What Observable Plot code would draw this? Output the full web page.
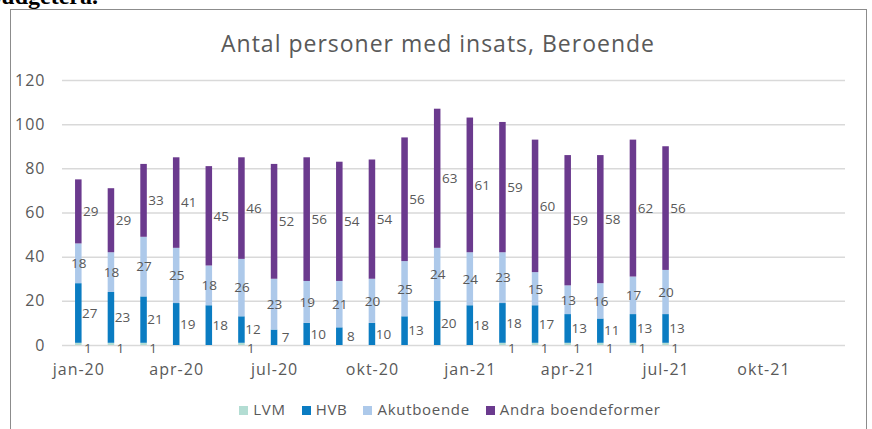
<!DOCTYPE html>
<html>
<head>
<meta charset="utf-8">
<script src="https://cdn.jsdelivr.net/npm/d3@7"></script>
<script src="https://cdn.jsdelivr.net/npm/@observablehq/plot@0.6"></script>
<style>
  html, body { margin: 0; padding: 0; background: #fff; }
  #wrap { position: relative; width: 872px; height: 429px; overflow: hidden; font-family: "Open Sans", Lato, sans-serif; }
  #above { position: absolute; left: -12px; top: -17px; font-family: "Liberation Serif", serif; font-weight: bold; font-size: 24px; line-height: 26px; color: #000; white-space: nowrap; }
  #frame { position: absolute; left: 10px; top: 9px; width: 857px; height: 460px; border: 1.5px solid #8c8c8c; box-sizing: border-box; }
  #title { position: absolute; left: 0; width: 876px; top: 27px; text-align: center; font-size: 23px; letter-spacing: 1px; color: #595959; }
  #chart { position: absolute; left: 0; top: 0; }
  #legend { position: absolute; left: 0; width: 900px; top: 399px; display: flex; justify-content: center; gap: 16px; font-size: 15px; letter-spacing: 0.7px; color: #595959; }
  #legend span.sw { display: inline-block; width: 9px; height: 9px; margin-right: 5px; }
</style>
</head>
<body>
<div id="wrap">
  <div id="above">budgetera.</div>
  <div id="frame"></div>
  <div id="chart"></div>
  <div id="title">Antal personer med insats, Beroende</div>
  <div id="legend"></div>
</div>
<script>
const months = ["jan-20","feb-20","mar-20","apr-20","maj-20","jun-20","jul-20","aug-20","sep-20","okt-20","nov-20","dec-20",
                "jan-21","feb-21","mar-21","apr-21","maj-21","jun-21","jul-21","aug-21","sep-21","okt-21","nov-21","dec-21"];
const tickLabels = ["jan-20","apr-20","jul-20","okt-20","jan-21","apr-21","jul-21","okt-21"];
const seriesNames = ["LVM","HVB","Akutboende","Andra boendeformer"];
const seriesColors = ["#b3ddd3","#0a7cc2","#adc9ea","#6b3a8e"];
const lvm   = [1,1,1,0,0,1,0,0,0,0,0,0,0,1,1,1,1,1,1];
const hvb   = [27,23,21,19,18,12,7,10,8,10,13,20,18,18,17,13,11,13,13];
const akut  = [18,18,27,25,18,26,23,19,21,20,25,24,24,23,15,13,16,17,20];
const andra = [29,29,33,41,45,46,52,56,54,54,56,63,61,59,60,59,58,62,56];
const yTicks = [0,20,40,60,80,100,120];

const seriesValues = [lvm, hvb, akut, andra];
const rows = [];
seriesValues.forEach((arr, si) => arr.forEach((v, i) => rows.push({month: months[i], series: seriesNames[si], value: v})));
const labelDx = {"LVM": 9, "HVB": 11, "Akutboende": 0, "Andra boendeformer": 12};
const labelDy = {"LVM": 4, "HVB": 0, "Akutboende": 0, "Andra boendeformer": 0};

const chart = Plot.plot({
  width: 872,
  height: 400,
  marginLeft: 62,
  marginRight: 27,
  marginTop: 80,
  marginBottom: 55,
  style: { fontFamily: "'Open Sans', Lato, sans-serif", color: "#595959", background: "transparent", overflow: "visible" },
  x: { type: "band", domain: months, paddingInner: 0.8, paddingOuter: 0.4, round: false, label: null },
  y: { domain: [0, 120], label: null },
  color: { domain: seriesNames, range: seriesColors },
  marks: [
    Plot.ruleY(yTicks, { stroke: "#d9d9d9", strokeWidth: 1.5 }),
    Plot.barY(rows, { x: "month", y: "value", fill: "series", order: seriesNames }),
    ...seriesNames.map(s => Plot.text(rows, Plot.stackY({
      x: "month", y: "value", z: "series", order: seriesNames,
      text: d => (d.series === s && d.value > 0) ? String(d.value) : null,
      dx: labelDx[s], dy: labelDy[s],
      fill: "#595959", fontSize: 13.5
    }))),
    Plot.axisY({ ticks: yTicks, tickSize: 0, tickPadding: 17, fontSize: 16, label: null }),
    Plot.axisX({ ticks: tickLabels, tickSize: 0, tickPadding: 18, fontSize: 16, label: null })
  ]
});
chart.querySelectorAll("g[aria-label='y-axis tick label'] text, g[aria-label='x-axis tick label'] text").forEach(t => t.setAttribute("letter-spacing", "1"));
document.getElementById("chart").appendChild(chart);

const legend = document.getElementById("legend");
seriesNames.forEach((s, i) => {
  const item = document.createElement("div");
  item.innerHTML = `<span class="sw" style="background:${seriesColors[i]}"></span>${s}`;
  legend.appendChild(item);
});
</script>
</body>
</html>
